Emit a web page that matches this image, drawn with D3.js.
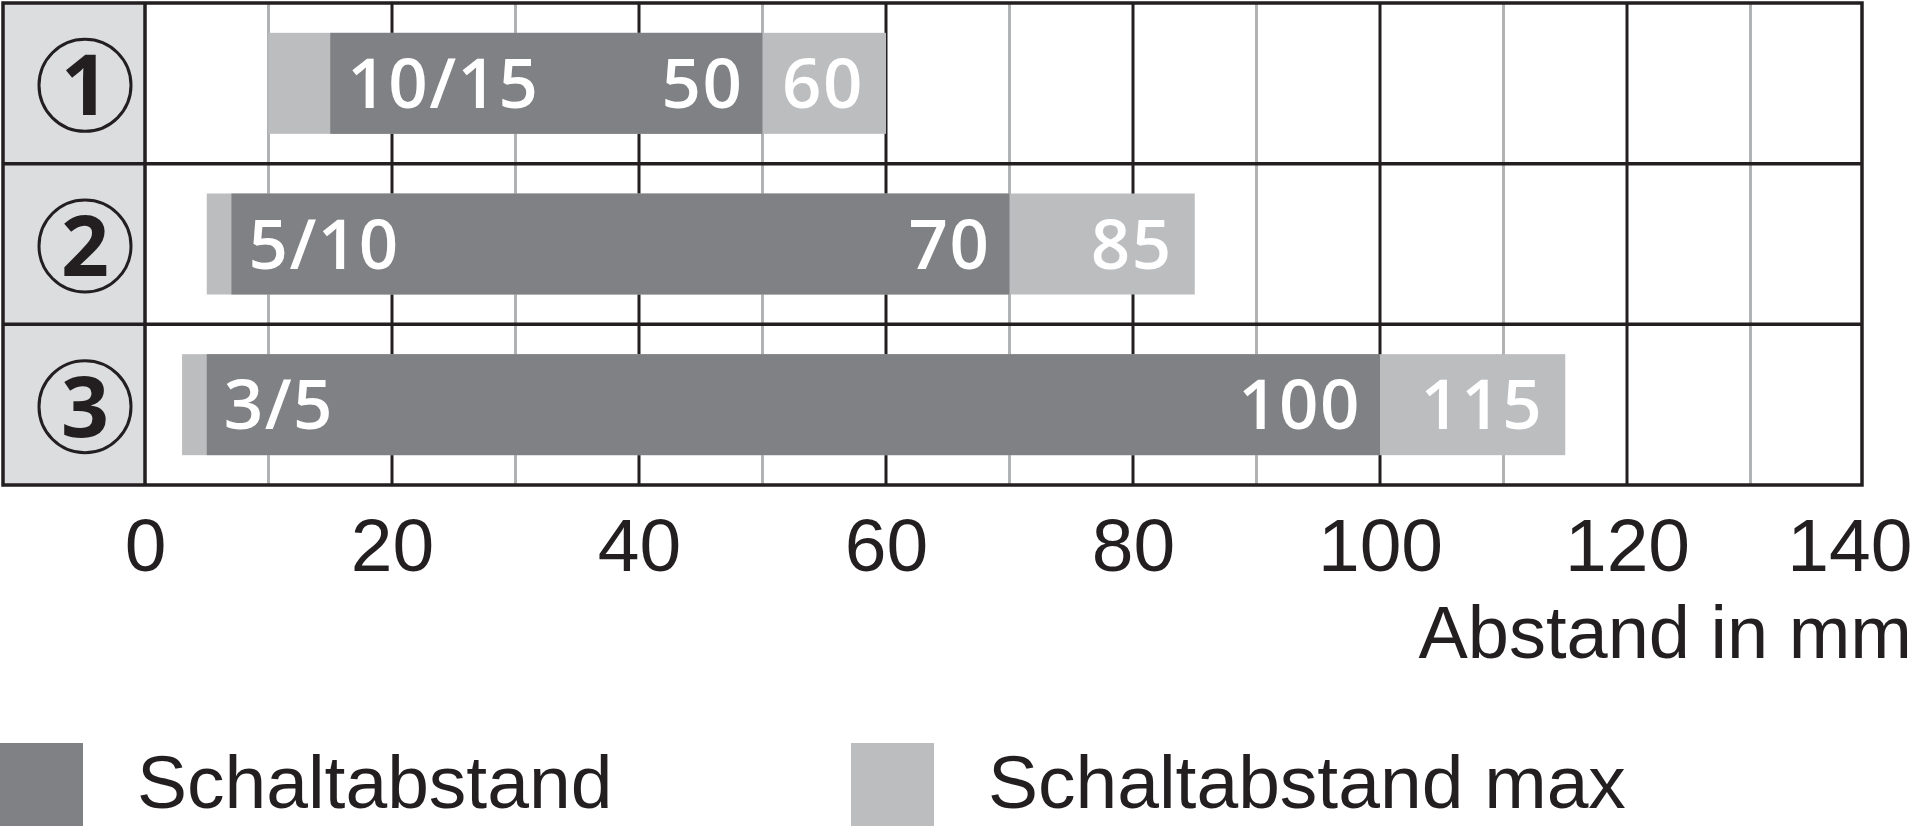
<!DOCTYPE html>
<html>
<head>
<meta charset="utf-8">
<script src="https://cdn.jsdelivr.net/npm/d3@7"></script>
<style>
  body { margin: 0; background: #fff; }
  svg { display: block; }
</style>
</head>
<body>
<div class="main_content"></div>
<script>
// data
const rows = ['1', '2', '3'];
const maxStart = [10, 5, 3];      // light bar start
const nomStart = [15, 7, 5];      // dark bar start
const nomEnd = [50, 70, 100];     // Schaltabstand
const maxEnd = [60, 85, 115];     // Schaltabstand max
const startLabels = ['10/15', '5/10', '3/5'];
const majorTicks = [0, 20, 40, 60, 80, 100, 120, 140];
const minorTicks = [10, 30, 50, 70, 90, 110, 130];
const legendLabels = ['Schaltabstand', 'Schaltabstand max'];

const width = 1920, height = 833;
const frame = {left: 3, top: 3, right: 1862, bottom: 485, labelCol: 145};
const dark = '#808184', light = '#bcbdbf', ink = '#231f20';

const svg = d3.select('.main_content').append('svg')
    .attr('width', width)
    .attr('height', height);

const x = d3.scaleLinear().domain([0, 140]).range([frame.labelCol, frame.labelCol + 140 * 12.35]);
const y = d3.scaleBand().domain(rows).range([frame.top, frame.bottom]);
const barH = 101;

// label column
svg.append('rect')
    .attr('x', frame.left).attr('y', frame.top)
    .attr('width', frame.labelCol - frame.left)
    .attr('height', frame.bottom - frame.top)
    .attr('fill', '#dcdddf');

// grid lines
svg.selectAll('.minor').data(minorTicks).join('line')
    .attr('x1', d => x(d)).attr('x2', d => x(d))
    .attr('y1', frame.top).attr('y2', frame.bottom)
    .attr('stroke', '#b1b2b4').attr('stroke-width', 3);

svg.selectAll('.major').data(majorTicks.filter(d => x(d) < frame.right)).join('line')
    .attr('x1', d => x(d)).attr('x2', d => x(d))
    .attr('y1', frame.top).attr('y2', frame.bottom)
    .attr('stroke', ink).attr('stroke-width', 3);

svg.selectAll('.rowline').data(rows.slice(1)).join('line')
    .attr('x1', frame.left).attr('x2', frame.right)
    .attr('y1', d => y(d)).attr('y2', d => y(d))
    .attr('stroke', ink).attr('stroke-width', 3.5);

// bars
const bars = svg.append('g');
const barTop = i => y(rows[i]) + y.bandwidth() / 2 - barH / 2;
bars.selectAll('.max').data(rows).join('rect')
    .attr('x', (d, i) => x(maxStart[i]))
    .attr('y', (d, i) => barTop(i))
    .attr('width', (d, i) => x(maxEnd[i]) - x(maxStart[i]))
    .attr('height', barH)
    .attr('fill', light);
bars.selectAll('.nom').data(rows).join('rect')
    .attr('x', (d, i) => x(nomStart[i]))
    .attr('y', (d, i) => barTop(i))
    .attr('width', (d, i) => x(nomEnd[i]) - x(nomStart[i]))
    .attr('height', barH)
    .attr('fill', dark);

// bar labels
const labelStyle = sel => sel
    .attr('y', (d, i) => barTop(i) + barH / 2 + 24.5)
    .attr('fill', '#fff')
    .attr('font-family', '"Open Sans", sans-serif')
    .attr('font-weight', 600)
    .attr('font-size', 69)
    .attr('letter-spacing', 1.5);

bars.selectAll('.lblStart').data(rows).join('text')
    .call(labelStyle)
    .attr('x', (d, i) => x(nomStart[i]) + 17)
    .text((d, i) => startLabels[i]);
bars.selectAll('.lblNom').data(rows).join('text')
    .call(labelStyle)
    .attr('x', (d, i) => x(nomEnd[i]) - 19)
    .attr('text-anchor', 'end')
    .text((d, i) => nomEnd[i]);
bars.selectAll('.lblMax').data(rows).join('text')
    .call(labelStyle)
    .attr('x', (d, i) => x(maxEnd[i]) - 22)
    .attr('text-anchor', 'end')
    .text((d, i) => maxEnd[i]);

// circled row numbers
const cx = 85;
const badges = svg.selectAll('.badge').data(rows).join('g')
    .attr('transform', d => `translate(${cx},${y(d) + y.bandwidth() / 2 + 2})`);
badges.append('circle')
    .attr('r', 46)
    .attr('fill', 'none')
    .attr('stroke', ink)
    .attr('stroke-width', 3);
badges.append('text')
    .attr('y', 30)
    .attr('text-anchor', 'middle')
    .attr('fill', ink)
    .attr('font-family', '"Open Sans", sans-serif')
    .attr('font-weight', 700)
    .attr('font-size', 84)
    .text(d => d);

// outer frame
svg.append('rect')
    .attr('x', frame.left).attr('y', frame.top)
    .attr('width', frame.right - frame.left)
    .attr('height', frame.bottom - frame.top)
    .attr('fill', 'none')
    .attr('stroke', ink)
    .attr('stroke-width', 3.5);

svg.append('line')
    .attr('x1', x(0)).attr('x2', x(0))
    .attr('y1', frame.top).attr('y2', frame.bottom)
    .attr('stroke', ink).attr('stroke-width', 3);

// x axis
const axis = svg.append('g')
    .attr('transform', `translate(0,${frame.bottom})`)
    .call(d3.axisBottom(x).tickValues(majorTicks).tickSize(0).tickPadding(33).tickFormat(d3.format('d')));
axis.select('.domain').remove();
axis.selectAll('text')
    .attr('fill', ink)
    .attr('font-family', '"Liberation Sans", Arial, sans-serif')
    .attr('font-size', 75);
axis.selectAll('.tick').filter(d => d === 140).select('text')
    .attr('text-anchor', 'end')
    .attr('x', 1912 - x(140));

svg.append('text')
    .attr('x', 1912).attr('y', 658)
    .attr('text-anchor', 'end')
    .attr('fill', ink)
    .attr('font-family', '"Liberation Sans", Arial, sans-serif')
    .attr('font-size', 74)
    .text('Abstand in mm');

// legend
const legend = svg.selectAll('.legend').data(legendLabels).join('g')
    .attr('transform', (d, i) => `translate(${i === 0 ? 0 : 851},743)`);
legend.append('rect')
    .attr('width', 83).attr('height', 83)
    .attr('fill', (d, i) => i === 0 ? dark : light);
legend.append('text')
    .attr('x', 137)
    .attr('y', 65)
    .attr('fill', ink)
    .attr('font-family', '"Liberation Sans", Arial, sans-serif')
    .attr('font-size', 75)
    .text(d => d);
</script>
</body>
</html>
